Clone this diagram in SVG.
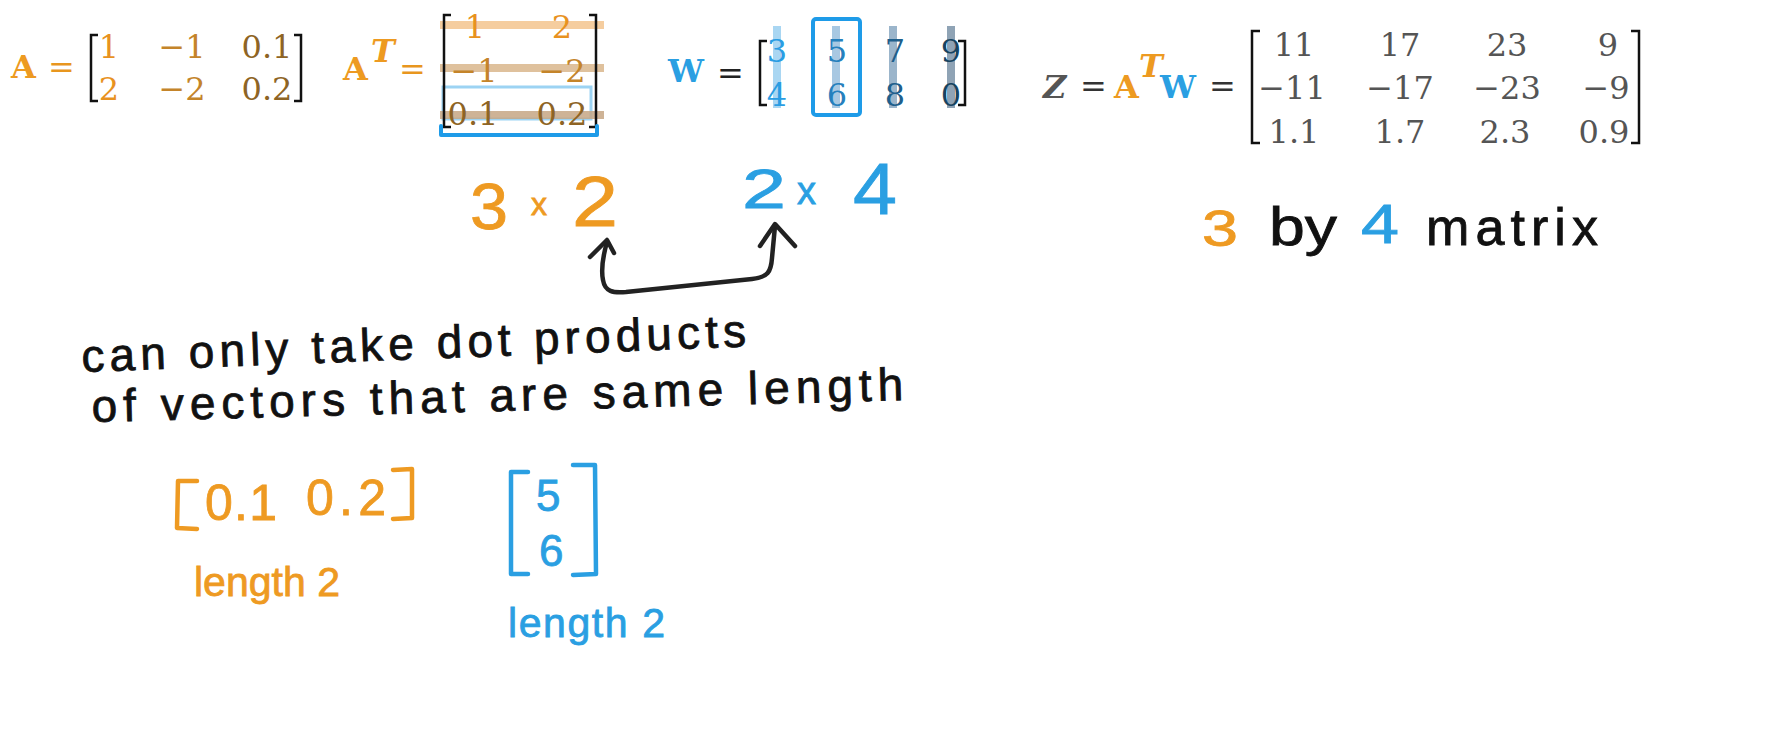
<svg xmlns="http://www.w3.org/2000/svg" width="1768" height="756" viewBox="0 0 1768 756">
<style>
.m{font-family:"DejaVu Serif","Liberation Serif",serif;font-size:32px}
.b{font-weight:bold}
.bi{font-weight:bold;font-style:italic}
.c{text-anchor:middle}
.br{fill:none;stroke:#111;stroke-width:2.5}
.hw{font-family:"Liberation Sans","DejaVu Sans",sans-serif;stroke-width:0.8}
.hb{fill:none;stroke-width:4.5;stroke-linecap:round;stroke-linejoin:round}
.or{fill:#ED9A21}
.bl{fill:#2A9FE2}
.ho{fill:#EE9A22;stroke:#EE9A22}
.hl{fill:#2A9FE2;stroke:#2A9FE2}
.hk{fill:#111;stroke:#111}
.gz{fill:#555}
</style>
<rect width="1768" height="756" fill="#ffffff"/>

<g id="eqA">
  <text class="m b or" x="11" y="78" font-size="36">A</text>
  <text class="m" x="48" y="78" fill="#E8961E">=</text>
  <path class="br" d="M98,35 H91 V101 H98"/>
  <path class="br" d="M294,35 H301 V101 H294"/>
  <text class="m c" x="109" y="58" fill="#E8921F">1</text>
  <text class="m c" x="109" y="100" fill="#E8921F">2</text>
  <text class="m c" x="182" y="58" fill="#C4842A">−1</text>
  <text class="m c" x="182" y="100" fill="#C4842A">−2</text>
  <text class="m c" x="267" y="58" fill="#8E6424">0.1</text>
  <text class="m c" x="267" y="100" fill="#8E6424">0.2</text>
</g>

<g id="eqAT">
  <text class="m b or" x="343" y="80" font-size="35">A</text>
  <text class="m bi or" x="371" y="62" font-size="20">T</text>
  <text class="m" x="399" y="80" fill="#E8961E">=</text>
  <rect x="443" y="87" width="148" height="32" fill="none" stroke="#9CD3F3" stroke-width="3"/>
  <rect x="440" y="21" width="164" height="8" fill="#F3C48E" opacity="0.85"/>
  <rect x="440" y="64" width="164" height="8" fill="#D9B68C" opacity="0.85"/>
  <rect x="440" y="111" width="164" height="8" fill="#C6A684" opacity="0.85"/>
  <path class="br" d="M451,15 H444 V127 H451"/>
  <path class="br" d="M589,15 H596 V127 H589"/>
  <text class="m c" x="475" y="38" fill="#E8921F">1</text>
  <text class="m c" x="562" y="38" fill="#E8921F">2</text>
  <text class="m c" x="474" y="82" fill="#C4842A">−1</text>
  <text class="m c" x="562" y="82" fill="#C4842A">−2</text>
  <text class="m c" x="473" y="125" fill="#8E6424">0.1</text>
  <text class="m c" x="562" y="125" fill="#8E6424">0.2</text>
  <path d="M441,126 V135 H597 V126" fill="none" stroke="#1E9BE8" stroke-width="4" stroke-linejoin="round" stroke-linecap="round"/>
</g>

<g id="eqW">
  <text class="m b bl" x="668" y="82" font-size="32">W</text>
  <text class="m" x="717" y="84" fill="#222">=</text>
  <rect x="773" y="26" width="8" height="82" fill="#A9D6F2"/>
  <rect x="832" y="26" width="8" height="82" fill="#A8C8E2"/>
  <rect x="889" y="26" width="8" height="82" fill="#9BB5CB"/>
  <rect x="947" y="26" width="8" height="82" fill="#8FA3B5"/>
  <path class="br" d="M767,41 H760 V105 H767"/>
  <path class="br" d="M958,41 H965 V105 H958"/>
  <text class="m c" x="777" y="62" fill="#2A9DE3">3</text>
  <text class="m c" x="777" y="106" fill="#2A9DE3">4</text>
  <text class="m c" x="837" y="62" fill="#2680BD">5</text>
  <text class="m c" x="837" y="106" fill="#2680BD">6</text>
  <text class="m c" x="895" y="62" fill="#1F5F8C">7</text>
  <text class="m c" x="895" y="106" fill="#1F5F8C">8</text>
  <text class="m c" x="951" y="62" fill="#174460">9</text>
  <text class="m c" x="951" y="106" fill="#174460">0</text>
  <rect x="813" y="19" width="47" height="96" rx="3" fill="none" stroke="#1E9BE8" stroke-width="4"/>
</g>

<g id="eqZ">
  <text class="m bi gz" x="1043" y="98" font-size="33">Z</text>
  <text class="m" x="1080" y="97" fill="#333">=</text>
  <text class="m b or" x="1114" y="98" font-size="33">A</text>
  <text class="m bi or" x="1139" y="77" font-size="17">T</text>
  <text class="m b bl" x="1160" y="98" font-size="33">W</text>
  <text class="m" x="1209" y="97" fill="#333">=</text>
  <path class="br" d="M1260,31 H1252 V143 H1260"/>
  <path class="br" d="M1631,31 H1639 V143 H1631"/>
  <g class="m c gz" font-size="35">
    <text x="1294" y="56">11</text>
    <text x="1400" y="56">17</text>
    <text x="1507" y="56">23</text>
    <text x="1608" y="56">9</text>
    <text x="1292" y="99">−11</text>
    <text x="1400" y="99">−17</text>
    <text x="1507" y="99">−23</text>
    <text x="1606" y="99">−9</text>
    <text x="1294" y="143">1.1</text>
    <text x="1400" y="143">1.7</text>
    <text x="1505" y="143">2.3</text>
    <text x="1604" y="143">0.9</text>
  </g>
</g>

<g id="dims">
  <text class="hw ho" x="470" y="229" font-size="64" textLength="38" lengthAdjust="spacingAndGlyphs">3</text>
  <text class="hw ho" x="531" y="215" font-size="32">x</text>
  <text class="hw ho" x="572" y="226" font-size="70" textLength="46" lengthAdjust="spacingAndGlyphs">2</text>
  <text class="hw hl" x="742" y="208" font-size="56" textLength="44" lengthAdjust="spacingAndGlyphs">2</text>
  <text class="hw hl" x="797" y="204" font-size="38">x</text>
  <text class="hw hl" x="853" y="214" font-size="72" textLength="44" lengthAdjust="spacingAndGlyphs">4</text>
</g>

<g id="result">
  <text class="hw ho" x="1202" y="246" font-size="50" textLength="36" lengthAdjust="spacingAndGlyphs">3</text>
  <text class="hw hk" x="1269" y="245" font-size="54" textLength="68" lengthAdjust="spacingAndGlyphs">by</text>
  <text class="hw hl" x="1361" y="243" font-size="56" textLength="38" lengthAdjust="spacingAndGlyphs">4</text>
  <text class="hw hk" x="1426" y="245" font-size="52" textLength="172" lengthAdjust="spacing">matrix</text>
</g>

<g id="note">
  <text class="hw hk" x="82" y="372" font-size="46" textLength="665" lengthAdjust="spacing" transform="rotate(-2.2 82 372)">can only take dot products</text>
  <text class="hw hk" x="92" y="422" font-size="46" textLength="812" lengthAdjust="spacing" transform="rotate(-1.55 92 422)">of vectors that are same length</text>
</g>

<g id="vecA">
  <path class="hb" stroke="#EE9A22" d="M197,481 L178,481 L177,528 L197,529"/>
  <path class="hb" stroke="#EE9A22" d="M393,470 L412,469 L412,518 L393,519"/>
  <text class="hw ho" x="205" y="520" font-size="50" textLength="72" lengthAdjust="spacing">0.1</text>
  <text class="hw ho" x="306" y="515" font-size="50" textLength="80" lengthAdjust="spacing">0.2</text>
  <text class="hw ho" x="194" y="596" font-size="41" textLength="146" lengthAdjust="spacing">length 2</text>
</g>

<g id="vecW">
  <path class="hb" stroke="#2A9FE2" d="M528,472 L511,472 L511,574 L528,574"/>
  <path class="hb" stroke="#2A9FE2" d="M573,465 L595,465 L596,574 L573,575"/>
  <text class="hw hl" x="536" y="511" font-size="44">5</text>
  <text class="hw hl" x="539" y="566" font-size="44">6</text>
  <text class="hw hl" x="508" y="637" font-size="41" textLength="157" lengthAdjust="spacing">length 2</text>
</g>

<g id="connectors">
  <path class="hb" stroke="#222" d="M607,242 C603,256 601,270 603,280 C605,292 613,293 626,292 L752,279 C768,277 771,272 772,258 L775,226"/>
  <path class="hb" stroke="#222" d="M590,257 L607,240 L614,253"/>
  <path class="hb" stroke="#222" d="M760,246 L775,224 L795,246"/>
</g>
</svg>
